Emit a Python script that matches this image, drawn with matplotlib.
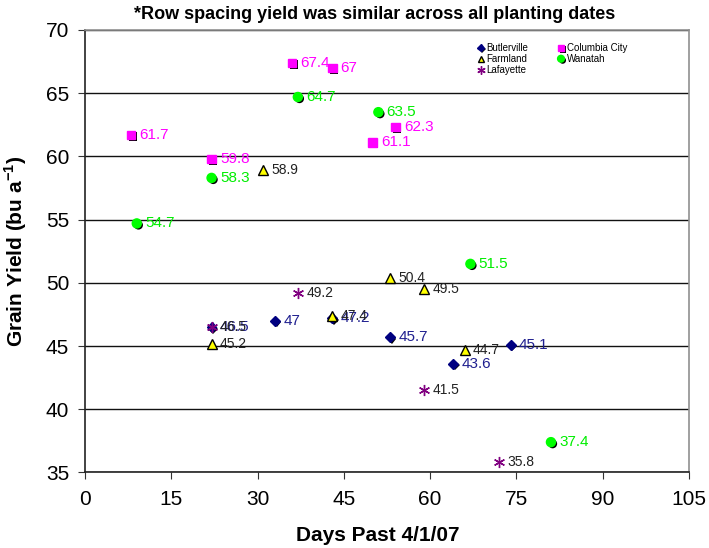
import matplotlib
matplotlib.use("Agg")
import matplotlib.pyplot as plt
import matplotlib.patheffects as pe

plt.rcParams['font.family'] = ['Liberation Sans', 'DejaVu Sans']

# Days past 4/1/07 and grain yield (bu/a) for each location
butlerville_days = [22, 33, 43, 53, 64, 74]
butlerville_yield = [46.5, 47, 47.2, 45.7, 43.6, 45.1]

farmland_days = [22, 31, 43, 53, 59, 66]
farmland_yield = [45.2, 58.9, 47.4, 50.4, 49.5, 44.7]

lafayette_days = [22, 37, 59, 72]
lafayette_yield = [46.5, 49.2, 41.5, 35.8]

columbia_days = [8, 22, 36, 43, 50, 54]
columbia_yield = [61.7, 59.8, 67.4, 67, 61.1, 62.3]

wanatah_days = [9, 22, 37, 51, 67, 81]
wanatah_yield = [54.7, 58.3, 64.7, 63.5, 51.5, 37.4]

x_ticks = [0, 15, 30, 45, 60, 75, 90, 105]
y_ticks = [35, 40, 45, 50, 55, 60, 65, 70]

fig = plt.figure(figsize=(7.09, 5.48), dpi=100)
ax = fig.add_axes([0.1199, 0.1378, 0.8519, 0.8075])

shadow = [pe.SimplePatchShadow(offset=(1.2, -1.2), shadow_rgbFace='black', alpha=1.0),
          pe.Normal()]

series = [
    ("Butlerville", butlerville_days, butlerville_yield,
     dict(marker='D', color='#000080', ms=5, mec='#000080'), '#1f1f8f', 11, True),
    ("Farmland", farmland_days, farmland_yield,
     dict(marker='^', color='#ffff00', ms=6.5, mec='black', mew=1.0), '#222222', 10, False),
    ("Lafayette", lafayette_days, lafayette_yield,
     dict(marker=(6, 2, 0), color='#800080', ms=8, mec='#800080', mew=1.0), '#222222', 10, False),
    ("Columbia City", columbia_days, columbia_yield,
     dict(marker='s', color='#ff00ff', ms=6, mec='#ff00ff'), '#ff00ff', 11, True),
    ("Wanatah", wanatah_days, wanatah_yield,
     dict(marker='o', color='#00ff00', ms=6.5, mec='#00ff00'), '#00ee00', 11, True),
]

for name, xs, ys, style, lc, fs, use_shadow in series:
    ln, = ax.plot(xs, ys, linestyle='none', label=name, zorder=3, **style)
    if use_shadow:
        ln.set_path_effects(shadow)
    for x, y in zip(xs, ys):
        ax.annotate(f"{y:g}", (x, y), xytext=(6, 0), textcoords='offset points',
                    va='center', ha='left', color=lc, fontsize=fs, zorder=4)

ax.set_xlim(0, 105)
ax.set_ylim(35, 70)
ax.set_xticks(x_ticks)
ax.set_yticks(y_ticks)
ax.tick_params(labelsize=15, direction='out', length=5, color='#333333')
ax.tick_params(axis='x', pad=7.5)
ax.tick_params(axis='y', pad=6.5)
ax.yaxis.grid(True, color='#111111', linewidth=1.0)
ax.set_axisbelow(True)
for side, sp in ax.spines.items():
    sp.set_linewidth(1.2)
    sp.set_color('#222222' if side in ('left', 'bottom') else '#909090')

ax.set_xlabel("Days Past 4/1/07", fontsize=15, fontweight='bold')
ax.xaxis.set_label_coords(0.4845, -0.122)
ax.set_ylabel("Grain Yield (bu a$^{\\mathregular{-1}}$)", fontsize=15, fontweight='bold')
ax.yaxis.set_label_coords(-0.092, 0.5)
fig.text(0.529, 0.974, "*Row spacing yield was similar across all planting dates",
         fontsize=13, fontweight='bold', ha='center', va='center')

leg = ax.legend(ncol=2, loc='upper left', bbox_to_anchor=(0.635, 0.99), frameon=False,
                fontsize=7, handlelength=0.7, handletextpad=0.25, columnspacing=3.0,
                labelspacing=0.1, markerscale=0.75)

fig.savefig("out.png", dpi=100)
